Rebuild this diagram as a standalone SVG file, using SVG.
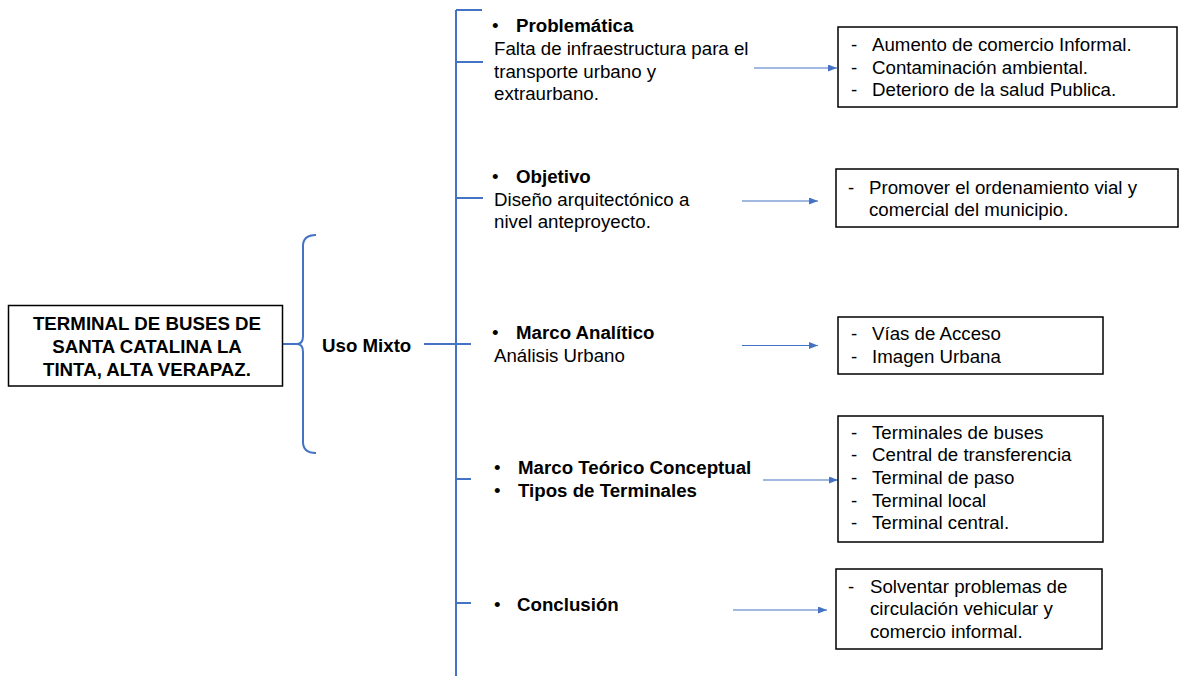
<svg xmlns="http://www.w3.org/2000/svg" width="1180" height="676" viewBox="0 0 1180 676">
  <style>
    text { font-family: "Liberation Sans", Arial, sans-serif; font-size: 18.7px; fill: #000; }
    .b { font-weight: bold; }
    .box { fill: #fff; stroke: #000; stroke-width: 1.5; }
    .tree { fill: none; stroke: #4472C4; stroke-width: 2; }
    .arrow { fill: none; stroke: #4472C4; stroke-width: 1.2; marker-end: url(#head); }
  </style>
  <defs>
    <marker id="head" markerUnits="userSpaceOnUse" markerWidth="10" markerHeight="8" refX="9" refY="3.5" orient="auto">
      <path d="M0,0 L9,3.5 L0,7 Z" fill="#4472C4"/>
    </marker>
  </defs>
  <rect width="1180" height="676" fill="#fff"/>

  <!-- connectors -->
  <g id="connectors">
    <!-- brace joining the title to "Uso Mixto" -->
    <path class="tree" d="M282,344 L297,344 M316,235 Q303,235 303,246 L303,336 Q303,344 297,344 Q303,344 303,352 L303,442 Q303,453 316,453"/>
    <!-- trunk with branches -->
    <path class="tree" d="M424,344 L471,344 M456,10 L456,676 M456,10 L482,10 M456,62 L483,62 M456,198 L483,198 M456,479 L471,479 M456,603 L471,603"/>
    <!-- arrows to the detail boxes -->
    <line class="arrow" x1="754" y1="68" x2="837" y2="68"/>
    <line class="arrow" x1="742" y1="201" x2="818" y2="201"/>
    <line class="arrow" x1="742" y1="345.5" x2="818" y2="345.5"/>
    <line class="arrow" x1="763" y1="480" x2="838" y2="480"/>
    <line class="arrow" x1="733" y1="610" x2="827" y2="610"/>
  </g>

  <!-- title -->
  <g id="title">
    <rect class="box" x="8.5" y="305.5" width="274" height="80.5"/>
    <text class="b" x="147" y="330" text-anchor="middle">TERMINAL DE BUSES DE</text>
    <text class="b" x="147" y="352.5" text-anchor="middle">SANTA CATALINA LA</text>
    <text class="b" x="147" y="375.5" text-anchor="middle">TINTA, ALTA VERAPAZ.</text>
  </g>

  <g id="uso-mixto">
    <text class="b" x="322" y="352">Uso Mixto</text>
  </g>

  <!-- branch headings -->
  <g id="problematica">
    <text x="492" y="32">•</text>
    <text class="b" x="516" y="32">Problemática</text>
    <text x="494" y="55">Falta de infraestructura para el</text>
    <text x="494" y="77.5">transporte urbano y</text>
    <text x="494" y="100">extraurbano.</text>
  </g>

  <g id="objetivo">
    <text x="492" y="183">•</text>
    <text class="b" x="516" y="183">Objetivo</text>
    <text x="494" y="205.5">Diseño arquitectónico a</text>
    <text x="494" y="228">nivel anteproyecto.</text>
  </g>

  <g id="marco-analitico">
    <text x="492" y="338.5">•</text>
    <text class="b" x="516" y="338.5">Marco Analítico</text>
    <text x="494" y="361.5">Análisis Urbano</text>
  </g>

  <g id="marco-teorico">
    <text x="494" y="473.5">•</text>
    <text class="b" x="518" y="473.5">Marco Teórico Conceptual</text>
    <text x="494" y="496.5">•</text>
    <text class="b" x="518" y="496.5">Tipos de Terminales</text>
  </g>

  <g id="conclusion">
    <text x="494" y="611">•</text>
    <text class="b" x="517" y="611">Conclusión</text>
  </g>

  <!-- detail boxes -->
  <g id="box-problemas">
    <rect class="box" x="838" y="27" width="339" height="80"/>
    <text x="851" y="50.5">-</text><text x="872" y="50.5">Aumento de comercio Informal.</text>
    <text x="851" y="73.5">-</text><text x="872" y="73.5">Contaminación ambiental.</text>
    <text x="851" y="96">-</text><text x="872" y="96">Deterioro de la salud Publica.</text>
  </g>

  <g id="box-objetivo">
    <rect class="box" x="836" y="169" width="342" height="58"/>
    <text x="848" y="193.5">-</text><text x="869" y="193.5">Promover el ordenamiento vial y</text>
    <text x="869" y="216">comercial del municipio.</text>
  </g>

  <g id="box-analitico">
    <rect class="box" x="838" y="317" width="265" height="57"/>
    <text x="851" y="339.5">-</text><text x="872" y="339.5">Vías de Acceso</text>
    <text x="851" y="362.5">-</text><text x="872" y="362.5">Imagen Urbana</text>
  </g>

  <g id="box-terminales">
    <rect class="box" x="838" y="416" width="265" height="126"/>
    <text x="851" y="438.5">-</text><text x="872" y="438.5">Terminales de buses</text>
    <text x="851" y="461.2">-</text><text x="872" y="461.2">Central de transferencia</text>
    <text x="851" y="484">-</text><text x="872" y="484">Terminal de paso</text>
    <text x="851" y="506.6">-</text><text x="872" y="506.6">Terminal local</text>
    <text x="851" y="529.3">-</text><text x="872" y="529.3">Terminal central.</text>
  </g>

  <g id="box-conclusion">
    <rect class="box" x="836" y="569" width="266" height="80"/>
    <text x="848" y="592.5">-</text><text x="870" y="592.5">Solventar problemas de</text>
    <text x="870" y="615">circulación vehicular y</text>
    <text x="870" y="637.5">comercio informal.</text>
  </g>
</svg>
